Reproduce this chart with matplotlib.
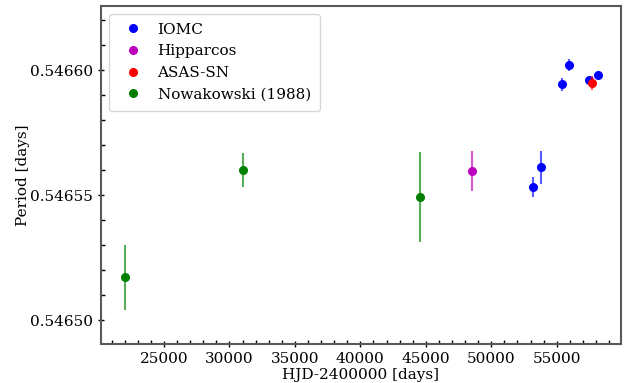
import numpy as np
import matplotlib
matplotlib.use('Agg')
import matplotlib.pyplot as plt
from matplotlib.ticker import MultipleLocator, FormatStrFormatter

plt.rcParams['font.family'] = 'DejaVu Serif'
plt.rcParams['font.size'] = 11

# dados
iomc_t = [53170, 53780, 55430, 55960, 57445, 58130]
iomc_p = [0.5465533, 0.5465611, 0.5465943, 0.5466021, 0.5465960, 0.5465979]
iomc_e = [0.0000040, 0.0000067, 0.0000027, 0.0000023, 0.0000012, 0.0000010]

hip_t = [48500]
hip_p = [0.5465595]
hip_e = [0.0000080]

asas_t = [57700]
asas_p = [0.5465949]
asas_e = [0.0000029]

nowa_t = [22040, 31030, 44555]
nowa_p = [0.5465172, 0.5465600, 0.5465492]
nowa_e = [0.0000130, 0.0000069, 0.0000180]

series = [
    ('IOMC', iomc_t, iomc_p, iomc_e, 'b'),
    ('Hipparcos', hip_t, hip_p, hip_e, 'm'),
    ('ASAS-SN', asas_t, asas_p, asas_e, 'r'),
    ('Nowakowski (1988)', nowa_t, nowa_p, nowa_e, 'g'),
]

fig = plt.figure(figsize=(6.33, 3.83), dpi=100)
ax = fig.add_axes([101 / 633, 1 - 344 / 383, 520 / 633, 338 / 383])

for nome, t, p, e, cor in series:
    ax.errorbar(t, p, yerr=e, fmt='none', ecolor=cor, elinewidth=1.5, alpha=0.65)
    ax.plot(t, p, 'o', color=cor, ms=5.5, label=nome, ls='')

ax.set_xlim(20190, 59910)
ax.set_ylim(0.5464904, 0.5466256)
ax.xaxis.set_major_locator(MultipleLocator(5000))
ax.xaxis.set_minor_locator(MultipleLocator(1000))
ax.yaxis.set_major_locator(MultipleLocator(0.00005))
ax.yaxis.set_minor_locator(MultipleLocator(0.00001))
ax.yaxis.set_major_formatter(FormatStrFormatter('%.5f'))
ax.tick_params(which='major', direction='inout', length=5, width=1)
ax.tick_params(which='minor', direction='in', length=3, width=1)
for s in ax.spines.values():
    s.set_linewidth(1.5)
    s.set_color('0.35')

ax.set_xlabel('HJD-2400000 [days]', labelpad=1)
ax.set_ylabel('Period [days]', labelpad=0)
ax.legend(loc='upper left', borderpad=0.6, handletextpad=0.6)

fig.savefig('out.png', dpi=100)
